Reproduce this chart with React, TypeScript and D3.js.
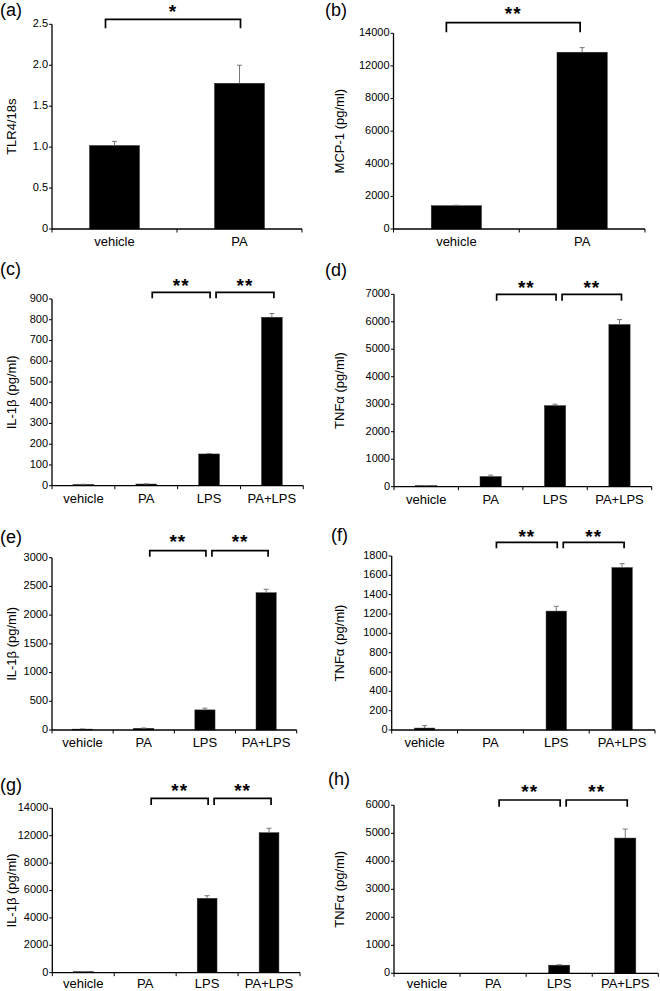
import React from 'react';
import * as d3 from 'd3';

// ---------- data ----------
const catsTwo = ['vehicle', 'PA'];
const catsFour = ['vehicle', 'PA', 'LPS', 'PA+LPS'];

const aValues = [1.02, 1.78];
const aErrors = [0.05, 0.22];
const aTicks = [0, 0.5, 1, 1.5, 2, 2.5];
const aTickLabels = ['0', '0.5', '1.0', '1.5', '2.0', '2.5'];

const bValues = [1430, 12840];
const bErrors = [30, 280];
const bTicks = [0, 2000, 4000, 6000, 8000, 12000, 14000];
const bTickLabels = ['0', '2000', '4000', '6000', '8000', '12000', '14000'];

const cValues = [6, 8, 153, 812];
const cErrors = [1, 1, 2, 18];
const cTicks = [0, 100, 200, 300, 400, 500, 600, 700, 800, 900];

const dValues = [40, 370, 2950, 5900];
const dErrors = [5, 50, 50, 180];
const dTicks = [0, 1000, 2000, 3000, 4000, 5000, 6000, 7000];

const eValues = [15, 30, 350, 2390];
const eErrors = [3, 5, 30, 60];
const eTicks = [0, 500, 1000, 1500, 2000, 2500, 3000];

const fValues = [20, 0, 1230, 1680];
const fErrors = [25, 0, 50, 40];
const fTicks = [0, 200, 400, 600, 800, 1000, 1200, 1400, 1600, 1800];

const gValues = [80, 0, 5430, 12220];
const gErrors = [10, 0, 190, 320];
const gTicks = [0, 2000, 4000, 6000, 8000, 12000, 14000];
const gTickLabels = ['0', '2000', '4000', '6000', '8000', '12000', '14000'];

const hValues = [0, 0, 290, 4830];
const hErrors = [0, 0, 15, 320];
const hTicks = [0, 1000, 2000, 3000, 4000, 5000, 6000];

const twoBrackets: [number, number, string][] = [[1, 2, '**'], [2, 3, '**']];

// ---------- panels (layout) ----------
const panels = [
  { tag: '(a)', tagX: 0, tagY: 11, title: 'TLR4/18s', titleX: 13, cats: catsTwo, values: aValues, errors: aErrors, ticks: aTicks, tickLabels: aTickLabels,
    x0: 52, x1: 302, yTop: 24.3, yBot: 229, barRatio: 0.4, brY: 19.3, brDrop: 9, starY: 6.5, lblDy: 17,
    brackets: [[0, 1, '*']] as [number, number, string][], brOff: [[-9, 1]] },
  { tag: '(b)', tagX: 325, tagY: 11, title: 'MCP-1 (pg/ml)', titleX: 341, cats: catsTwo, values: bValues, errors: bErrors, ticks: bTicks, tickLabels: bTickLabels,
    x0: 393.5, x1: 645, yTop: 33.3, yBot: 229, barRatio: 0.4, brY: 22.7, brDrop: 9.6, starY: 8.5, lblDy: 17,
    brackets: [[0, 1, '**']] as [number, number, string][], brOff: [[-10, -2]] },
  { tag: '(c)', tagX: 0, tagY: 270, title: 'IL-1β (pg/ml)', titleX: 13, cats: catsFour, values: cValues, errors: cErrors, ticks: cTicks, tickLabels: null,
    x0: 52, x1: 303.3, yTop: 299, yBot: 485.7, barRatio: 0.33, brY: 292.3, brDrop: 6, starY: 280.7, lblDy: 17,
    brackets: twoBrackets, brOff: [[6, 1], [7, 2]] },
  { tag: '(d)', tagX: 325, tagY: 271.7, title: 'TNFα (pg/ml)', titleX: 341, cats: catsFour, values: dValues, errors: dErrors, ticks: dTicks, tickLabels: null,
    x0: 394, x1: 651.7, yTop: 294.3, yBot: 486.7, barRatio: 0.33, brY: 294.3, brDrop: 6.4, starY: 283.3, lblDy: 17,
    brackets: twoBrackets, brOff: [[6, 1], [7, 2]] },
  { tag: '(e)', tagX: 0, tagY: 538.3, title: 'IL-1β (pg/ml)', titleX: 13, cats: catsFour, values: eValues, errors: eErrors, ticks: eTicks, tickLabels: null,
    x0: 52, x1: 296.7, yTop: 557.7, yBot: 730, barRatio: 0.33, brY: 550.7, brDrop: 6, starY: 537.3, lblDy: 17,
    brackets: twoBrackets, brOff: [[6, 1], [7, 2]] },
  { tag: '(f)', tagX: 331, tagY: 536.7, title: 'TNFα (pg/ml)', titleX: 341, cats: catsFour, values: fValues, errors: fErrors, ticks: fTicks, tickLabels: null,
    x0: 391.7, x1: 655, yTop: 556, yBot: 730, barRatio: 0.31, brY: 542.3, brDrop: 6, starY: 531.7, lblDy: 17,
    brackets: twoBrackets, brOff: [[6, 1], [7, 2]] },
  { tag: '(g)', tagX: 0, tagY: 786.7, title: 'IL-1β (pg/ml)', titleX: 13, cats: catsFour, values: gValues, errors: gErrors, ticks: gTicks, tickLabels: gTickLabels,
    x0: 52.3, x1: 300, yTop: 808.3, yBot: 972.7, barRatio: 0.32, brY: 798.3, brDrop: 6.7, starY: 785.7, lblDy: 15.5,
    brackets: twoBrackets, brOff: [[6, 1], [7, 2]] },
  { tag: '(h)', tagX: 328, tagY: 780, title: 'TNFα (pg/ml)', titleX: 341, cats: catsFour, values: hValues, errors: hErrors, ticks: hTicks, tickLabels: null,
    x0: 394, x1: 658.3, yTop: 805.3, yBot: 973.3, barRatio: 0.32, brY: 800, brDrop: 6.7, starY: 787.3, lblDy: 15,
    brackets: twoBrackets, brOff: [[6, 1], [7, 2]] },
];

const FONT = '"Liberation Sans", Arial, sans-serif';

function Panel({ p }: { p: any }) {
  const x = d3.scaleBand<string>().domain(p.cats).range([p.x0, p.x1]).padding(0);
  const n = p.ticks.length;
  const y = d3
    .scaleLinear()
    .domain(p.ticks)
    .range(p.ticks.map((_: number, i: number) => p.yBot - (i * (p.yBot - p.yTop)) / (n - 1)));
  const bw = x.bandwidth() * p.barRatio;
  const cx = (c: string) => (x(c) as number) + x.bandwidth() / 2;
  const boundaries = [p.x0, ...p.cats.map((c: string) => (x(c) as number) + x.bandwidth())];
  const fmt = d3.format('');
  return (
    <g>
      <text x={p.tagX} y={p.tagY} fontSize={18} fontFamily={FONT} dominantBaseline="middle">{p.tag}</text>
      <text
        transform={`translate(${p.titleX},${(p.yTop + p.yBot) / 2}) rotate(-90)`}
        textAnchor="middle"
        dominantBaseline="middle"
        fontSize={13}
        fontFamily={FONT}
      >
        {p.title}
      </text>
      {p.cats.map((c: string, i: number) =>
        p.values[i] > 0 ? (
          <rect key={c} x={cx(c) - bw / 2} y={y(p.values[i])} width={bw} height={p.yBot - y(p.values[i])} fill="#000" stroke="#333" strokeWidth={0.5} />
        ) : null
      )}
      {p.cats.map((c: string, i: number) =>
        p.errors[i] > 0 ? (
          <g key={'e' + c} stroke="#777" strokeWidth={1}>
            <line x1={cx(c)} x2={cx(c)} y1={y(p.values[i])} y2={y(p.values[i] + p.errors[i])} />
            <line x1={cx(c) - 2.5} x2={cx(c) + 2.5} y1={y(p.values[i] + p.errors[i])} y2={y(p.values[i] + p.errors[i])} />
          </g>
        ) : null
      )}
      <line x1={p.x0} x2={p.x0} y1={p.yTop} y2={p.yBot} stroke="#000" strokeWidth={1.3} />
      {p.ticks.map((t: number, i: number) => (
        <g key={'t' + i}>
          <line x1={p.x0 - 3} x2={p.x0} y1={y(t)} y2={y(t)} stroke="#000" strokeWidth={1} />
          <text x={p.x0 - 4} y={y(t)} textAnchor="end" dominantBaseline="middle" fontSize={11} fontFamily={FONT}>
            {p.tickLabels ? p.tickLabels[i] : fmt(t)}
          </text>
        </g>
      ))}
      <line x1={p.x0} x2={p.x1} y1={p.yBot} y2={p.yBot} stroke="#000" strokeWidth={1.3} />
      {boundaries.map((b: number, i: number) => (
        <line key={'b' + i} x1={b} x2={b} y1={p.yBot} y2={p.yBot + 3.5} stroke="#000" strokeWidth={1} />
      ))}
      {p.cats.map((c: string) => (
        <text key={'l' + c} x={cx(c)} y={p.yBot + p.lblDy} textAnchor="middle" fontSize={13} fontFamily={FONT}>
          {c}
        </text>
      ))}
      {p.brackets.map((br: [number, number, string], i: number) => {
        const xa = cx(p.cats[br[0]]) + p.brOff[i][0];
        const xb = cx(p.cats[br[1]]) + p.brOff[i][1];
        return (
          <g key={'br' + i}>
            <path
              d={`M${xa},${p.brY + p.brDrop}V${p.brY}H${xb}V${p.brY + p.brDrop}`}
              fill="none"
              stroke="#000"
              strokeWidth={1.7}
            />
            <text x={(xa + xb) / 2} y={p.starY + 11} textAnchor="middle" fontSize={19} fontWeight="bold" fontFamily={FONT} letterSpacing={1}>
              {br[2]}
            </text>
          </g>
        );
      })}
    </g>
  );
}

export default function App() {
  return (
    <svg width={660} height={991} style={{ position: 'absolute', left: 0, top: 0, background: '#fff' }}>
      <rect width={660} height={991} fill="#fff" />
      {panels.map((p) => (
        <Panel key={p.tag} p={p} />
      ))}
    </svg>
  );
}
